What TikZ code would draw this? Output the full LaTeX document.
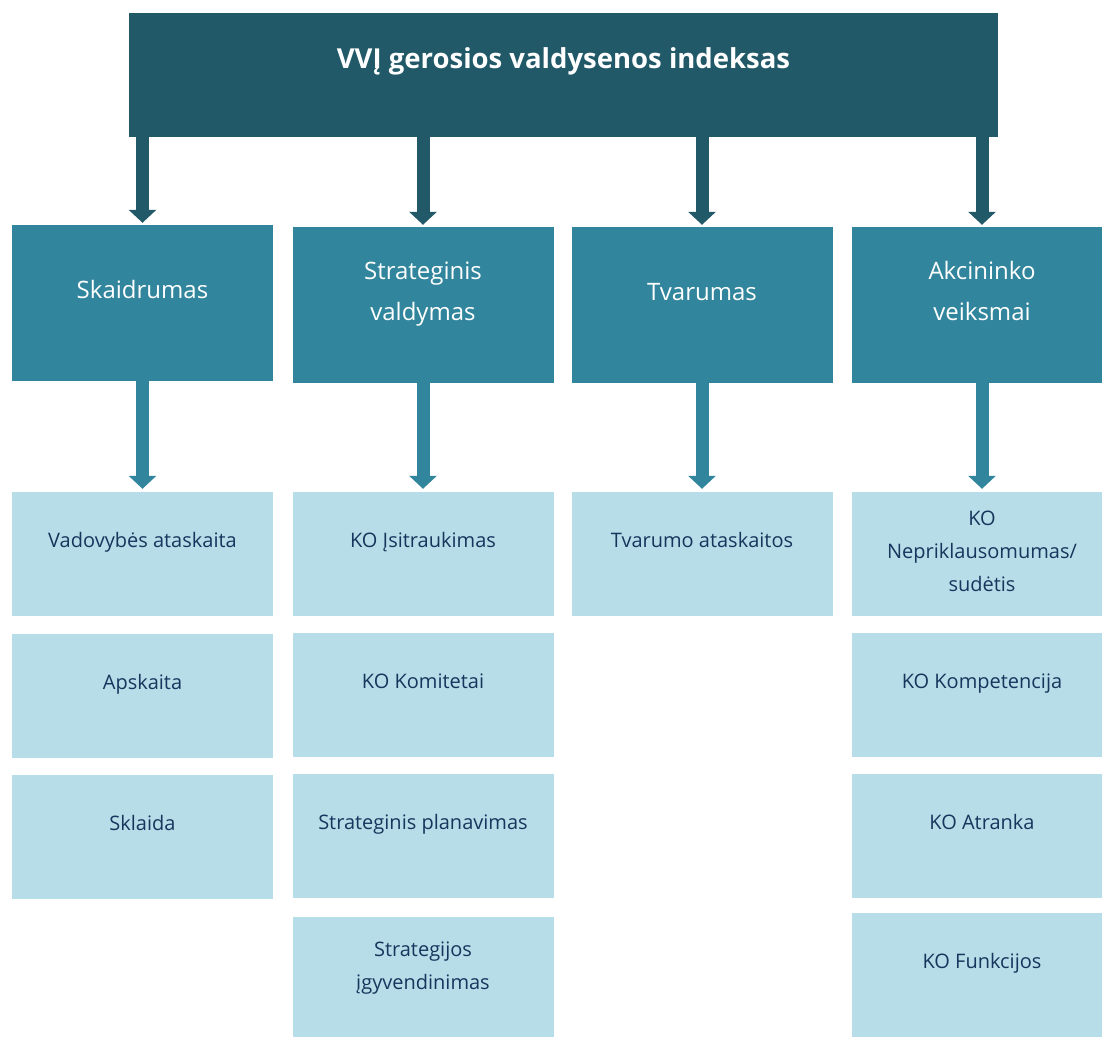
\documentclass[tikz,border=0pt]{standalone}
\usepackage{fontspec}
\setmainfont{Open Sans}
\usetikzlibrary{arrows.meta}
\definecolor{tealdark}{HTML}{215968}
\definecolor{tealmid}{HTML}{31859C}
\definecolor{teallight}{HTML}{B7DEE8}
\definecolor{navytext}{HTML}{17365D}
% text sits a little above the middle of its box
\newcommand{\boxtext}[2][26pt]{\raisebox{0pt}[\height][\dimexpr\depth+#1\relax]{\begin{tabular}{@{}c@{}}#2\end{tabular}}}
\tikzset{
  index/.style={fill=tealdark, text=white, minimum width=869pt, minimum height=124pt, inner sep=0pt, font=\fontsize{27.5}{32}\selectfont\bfseries},
  area/.style={fill=tealmid, text=white, minimum width=261pt, minimum height=156pt, inner sep=0pt, font=\fontsize{24}{41}\selectfont},
  item/.style={fill=teallight, text=navytext, minimum width=261pt, minimum height=124pt, inner sep=0pt, font=\fontsize{20}{33}\selectfont},
  down/.style={line width=13pt, -{Triangle[width=27pt,length=13pt]}},
}
\begin{document}
\begin{tikzpicture}[x=1pt, y=-1pt]
  \useasboundingbox (0,0) rectangle (1102,1036);
  % indeksas
  \node[index] (vvi) at (563.5,75) {\boxtext{VVĮ gerosios valdysenos indeksas}};
  % sritys
  \node[area] (skaid) at (142.5,303) {\boxtext{Skaidrumas}};
  \node[area] (strat) at (423,305) {\boxtext{Strateginis\\valdymas}};
  \node[area] (tvar)  at (702,305) {\boxtext{Tvarumas}};
  \node[area] (akc)   at (982,305) {\boxtext{Akcininko\\veiksmai}};
  % rodikliai
  \node[item] (vad)   at (142.5,554) {\boxtext{Vadovybės ataskaita}};
  \node[item] (apsk)  at (142.5,696) {\boxtext{Apskaita}};
  \node[item] (skl)   at (142.5,836.5) {\boxtext{Sklaida}};
  \node[item] (isit)  at (423,554) {\boxtext{KO Įsitraukimas}};
  \node[item] (kom)   at (423,695) {\boxtext{KO Komitetai}};
  \node[item] (plan)  at (423,836) {\boxtext{Strateginis planavimas}};
  \node[item] (igyv)  at (423,979) {\boxtext{Strategijos\\įgyvendinimas}};
  \node[item] (tvat)  at (702,554) {\boxtext{Tvarumo ataskaitos}};
  \node[item] (nepr)  at (982,554) {\boxtext[4pt]{KO\\Nepriklausomumas/\\sudėtis}};
  \node[item] (komp)  at (982,695) {\boxtext{KO Kompetencija}};
  \node[item] (atr)   at (982,835.5) {\boxtext{KO Atranka}};
  \node[item] (funk)  at (982,975) {\boxtext{KO Funkcijos}};
  % rodyklės
  \foreach \a in {skaid,strat,tvar,akc}
    \draw[down, tealdark, shorten >=2pt] (vvi.south -| \a) -- (\a.north);
  \draw[down, tealmid, shorten >=3pt] (skaid.south) -- (vad.north);
  \draw[down, tealmid, shorten >=3pt] (strat.south) -- (isit.north);
  \draw[down, tealmid, shorten >=3pt] (tvar.south) -- (tvat.north);
  \draw[down, tealmid, shorten >=3pt] (akc.south) -- (nepr.north);
\end{tikzpicture}
\end{document}
